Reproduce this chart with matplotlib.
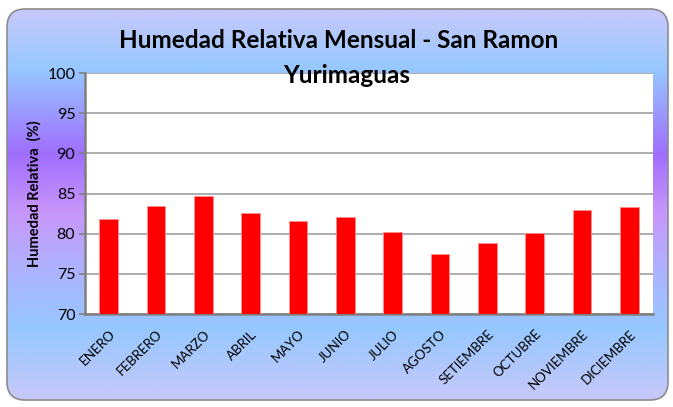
import numpy as np
import matplotlib.pyplot as plt
from matplotlib.colors import LinearSegmentedColormap
from matplotlib.patches import FancyBboxPatch

# Datos
meses = ['ENERO', 'FEBRERO', 'MARZO', 'ABRIL', 'MAYO', 'JUNIO', 'JULIO',
         'AGOSTO', 'SETIEMBRE', 'OCTUBRE', 'NOVIEMBRE', 'DICIEMBRE']
humedad = [81.8, 83.5, 84.7, 82.6, 81.6, 82.1, 80.2, 77.5, 78.85, 80.05, 82.9, 83.3]
y_ticks = [70, 75, 80, 85, 90, 95, 100]

plt.rcParams['font.family'] = ['Lato', 'DejaVu Sans']

fig = plt.figure(figsize=(6.73, 4.07), dpi=100)

# Fondo con degradado dentro de un marco redondeado
bg = fig.add_axes([0, 0, 1, 1], zorder=0)
bg.set_xlim(0, 673)
bg.set_ylim(407, 0)
bg.axis('off')
cmap = LinearSegmentedColormap.from_list('fondo', [
    (0.0, '#c8c8fa'), (0.15, '#96c8ff'), (0.37, '#a06eff'),
    (0.52, '#c896fa'), (0.65, '#b0b0ff'), (0.82, '#96c8ff'), (1.0, '#c8c8fa')])
grad = np.linspace(0, 1, 256).reshape(-1, 1)
img = bg.imshow(grad, cmap=cmap, aspect='auto', extent=[7, 668, 400, 9])
marco = FancyBboxPatch((7, 9), 661, 391, boxstyle='round,pad=0,rounding_size=18',
                       facecolor='none', edgecolor='#8c8c8c', linewidth=1.2)
bg.add_patch(marco)
img.set_clip_path(marco)

ax = fig.add_axes([0.1263, 0.2285, 0.8440, 0.5921], zorder=1)
x = np.arange(len(meses))
ax.bar(x, [h - 70 for h in humedad], bottom=70, width=0.4,
       color='#ff0000', edgecolor='#ff9090', linewidth=0.6, zorder=3)

ax.set_xlim(-0.5, len(meses) - 0.5)
ax.set_ylim(70, 100)
ax.set_yticks(y_ticks)
ax.set_yticklabels([str(v) for v in y_ticks], fontsize=11.5)
ax.set_xticks(x)
ax.set_xticklabels(meses, rotation=45, ha='right', rotation_mode='anchor', fontsize=9.5)
ax.tick_params(axis='x', length=0, pad=10)
ax.tick_params(axis='y', length=4, width=1.2, color='#808080', pad=3)
ax.grid(axis='y', color='#a0a0a0', linewidth=1.2, zorder=0)
ax.set_facecolor('white')
for s in ['top', 'right']:
    ax.spines[s].set_visible(False)
for s in ['left', 'bottom']:
    ax.spines[s].set_color('#808080')
    ax.spines[s].set_linewidth(1.8)

ax.set_ylabel('Humedad Relativa  (%)', fontsize=10.5, fontweight='bold', labelpad=4)

fig.text(0.503, 0.90, 'Humedad Relativa Mensual - San Ramon', ha='center', va='center',
         fontsize=17.5, fontweight='bold', zorder=5)
fig.text(0.515, 0.815, 'Yurimaguas', ha='center', va='center',
         fontsize=17.5, fontweight='bold', zorder=5)

fig.savefig('out.png', dpi=100)
